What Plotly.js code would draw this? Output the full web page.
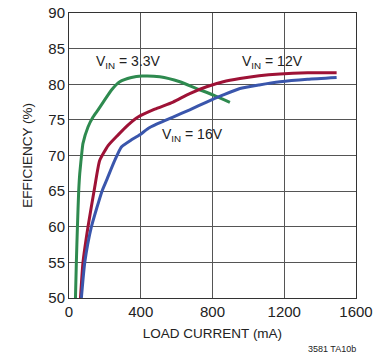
<!DOCTYPE html>
<html><head><meta charset="utf-8">
<script src="https://cdn.plot.ly/plotly-3.0.1.min.js"></script>
<style>html,body{margin:0;padding:0;background:#fff}#chart{width:373px;height:354px}</style>
</head><body><div id="chart"></div>
<script>
const x33 = [36, 41, 47, 54, 60, 73, 78, 106, 134, 162, 199, 237, 283, 348, 407, 506, 618, 711, 803, 897];
const y33 = [50, 55, 60, 65, 67.5, 70.75, 71.7, 74.0, 75.4, 76.4, 77.8, 79.2, 80.35, 80.95, 81.15, 81.05, 80.35, 79.4, 78.5, 77.45];
const x12 = [64, 78, 106, 143, 171, 218, 274, 330, 385, 478, 580, 673, 767, 860, 953, 1060, 1176, 1330, 1492];
const y12 = [50, 55, 60, 65.5, 69.3, 71.4, 72.9, 74.3, 75.4, 76.5, 77.5, 78.7, 79.65, 80.35, 80.8, 81.2, 81.45, 81.6, 81.6];
const x16 = [69, 88, 125, 184, 209, 255, 292, 348, 395, 441, 488, 580, 673, 767, 860, 953, 1060, 1176, 1330, 1492];
const y16 = [50, 55, 60, 65, 66.5, 69.3, 71.2, 72.2, 72.9, 73.8, 74.4, 75.4, 76.4, 77.5, 78.5, 79.4, 79.9, 80.35, 80.7, 80.95];
const labelText = ["V<sub>IN</sub> = 3.3V", "V<sub>IN</sub> = 12V", "V<sub>IN</sub> = 16V"];
const labelX = [330, 1137, 687];
const labelY = [83.1, 83.1, 72.9];
const colors = ["#2e8a4f", "#9e1236", "#3a56ac"];

const font = "'Liberation Sans Narrow', 'Arial Narrow', 'Liberation Sans', Arial, sans-serif";
const traces = [[x33,y33],[x12,y12],[x16,y16]].map((d,i)=>({
  x:d[0], y:d[1], type:'scatter', mode:'lines', line:{color:colors[i], width:3, shape:'spline', smoothing:0.5},
  hoverinfo:'skip', showlegend:false
}));
const annotations = labelText.map((t,i)=>({x:labelX[i], y:labelY[i], xref:'x', yref:'y', text:t, showarrow:false,
  font:{family:font, size:14, color:'#222'}}));
annotations.push({x:1, y:0, xref:'paper', yref:'paper', xanchor:'right', yanchor:'top', xshift:2, yshift:-44,
  text:'3581 TA10b', showarrow:false, font:{family:font, size:9, color:'#222'}});
const layout = {
  width:373, height:354, margin:{l:69, r:17, t:13, b:56},
  paper_bgcolor:'#fff', plot_bgcolor:'#fff',
  font:{family:font, size:14, color:'#222'},
  xaxis:{range:[0,1600], tickvals:[0,400,800,1200,1600], ticks:'', showgrid:true, gridcolor:'#555', gridwidth:1,
    zeroline:false, showline:true, linecolor:'#333', linewidth:1, mirror:true,
    title:{text:'LOAD CURRENT (mA)', font:{family:font, size:13.5}, standoff:9}, tickfont:{size:15}},
  yaxis:{range:[50,90], dtick:5, ticks:'', showgrid:true, gridcolor:'#555', gridwidth:1,
    zeroline:false, showline:true, linecolor:'#333', linewidth:1, mirror:true,
    title:{text:'EFFICIENCY (%)', font:{family:font, size:13.5}, standoff:12}, tickfont:{size:15}},
  annotations:annotations
};
Plotly.newPlot('chart', traces, layout, {staticPlot:true, displayModeBar:false});
</script></body></html>
